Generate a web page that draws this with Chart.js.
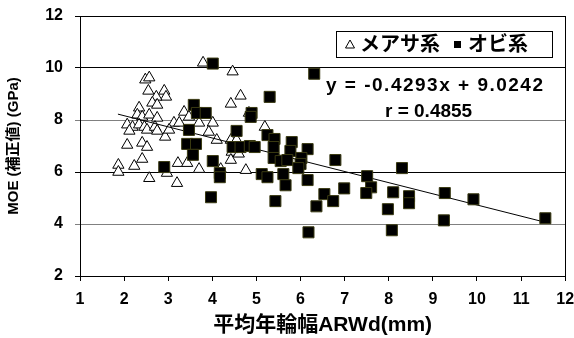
<!DOCTYPE html>
<html>
<head>
<meta charset="utf-8">
<script src="https://cdn.jsdelivr.net/npm/chart.js@4.4.1/dist/chart.umd.min.js"></script>
<style>
  html, body { margin: 0; padding: 0; background: #fff; }
  canvas { display: block; }
</style>
</head>
<body>
<canvas id="moeChart" width="574" height="338"></canvas>
<script>
'use strict';

// メアサ系 (open triangles)
const measaX = [1.87, 1.87, 2.48, 2.57, 2.55, 2.91, 2.95, 2.73, 2.64, 2.75, 2.34, 2.30, 2.41, 2.57, 2.75,
  2.07, 2.19, 2.12, 2.34, 2.46, 2.52, 2.70, 2.75, 2.93, 2.07, 2.41, 2.52, 2.41, 2.23, 2.57,
  3.36, 3.47, 3.13, 3.25, 3.70, 4.01, 3.02, 3.92, 4.10, 4.42, 4.55, 3.79, 4.46, 4.64, 4.42,
  4.83, 5.19, 4.44, 4.60, 4.42, 3.22, 3.43, 3.70, 3.20, 4.19, 4.76, 2.97];
const measaY = [6.27, 6.00, 9.55, 9.63, 9.12, 9.12, 8.89, 8.89, 8.66, 8.58, 8.47, 8.20, 8.12, 8.20, 8.08,
  7.82, 7.73, 7.58, 7.82, 7.73, 7.62, 7.73, 7.58, 7.35, 7.04, 7.12, 6.96, 6.50, 6.23, 5.76,
  8.31, 8.12, 7.89, 7.89, 7.89, 7.89, 7.62, 7.54, 7.23, 7.23, 7.23, 10.20, 9.86, 8.93, 8.62,
  8.27, 7.73, 6.77, 6.70, 6.46, 6.34, 6.34, 6.11, 5.57, 6.11, 6.07, 5.96];

// オビ系 (filled squares)
const obiX = [4.01, 6.31, 5.30, 3.58, 3.65, 3.85, 4.89, 4.87, 3.47, 4.55, 5.25, 5.41, 3.43, 3.63, 3.56,
  4.46, 4.64, 4.85, 4.96, 5.39, 5.80, 5.77, 6.16, 5.39, 5.55, 5.70, 6.02, 6.00, 5.95, 6.79,
  4.01, 2.91, 4.17, 4.17, 5.12, 5.25, 5.61, 5.66, 6.16, 3.97, 5.43, 6.54, 6.74, 6.36, 6.18,
  6.99, 7.51, 7.60, 7.49, 8.30, 8.10, 7.98, 8.46, 8.46, 8.07, 9.27, 9.25, 9.92, 11.55];
const obiY = [10.17, 9.78, 8.89, 8.58, 8.27, 8.27, 8.27, 8.12, 7.62, 7.58, 7.42, 7.27, 7.08, 7.08, 6.66,
  6.96, 6.96, 7.00, 6.96, 6.96, 7.15, 6.81, 6.88, 6.54, 6.42, 6.46, 6.54, 6.31, 6.15, 6.46,
  6.42, 6.19, 5.96, 5.80, 5.92, 5.80, 5.92, 5.49, 5.69, 5.03, 4.88, 5.15, 4.88, 4.68, 3.68,
  5.37, 5.84, 5.41, 5.19, 6.15, 5.22, 4.57, 5.07, 4.80, 3.76, 5.19, 4.14, 4.95, 4.22];

// regression line shown on the chart
const slope = -0.4293;
const intercept = 9.0242;
const rValue = 0.4855;
const trendX = [1.86, 11.55];

const xTicks = [1, 2, 3, 4, 5, 6, 7, 8, 9, 10, 11, 12];
const yTicks = [2, 4, 6, 8, 10, 12];

const FONT = "'Liberation Sans', 'Noto Sans CJK JP', sans-serif";

const toPoints = (xs, ys) => xs.map((x, i) => ({ x: x, y: ys[i] }));

// legend box, equation and right frame line
const extras = {
  id: 'extras',
  afterDraw(chart) {
    const { ctx, chartArea: a } = chart;
    ctx.save();
    ctx.strokeStyle = '#000';
    ctx.lineWidth = 1;
    ctx.beginPath();
    ctx.moveTo(Math.round(a.right) + 0.5, a.top);
    ctx.lineTo(Math.round(a.right) + 0.5, a.bottom);
    ctx.stroke();

    // legend
    ctx.fillStyle = '#fff';
    ctx.fillRect(336, 31, 216, 26);
    ctx.strokeRect(336.5, 31.5, 216, 26);
    ctx.fillStyle = '#000';
    ctx.beginPath();
    ctx.moveTo(350, 40); ctx.lineTo(354.5, 48); ctx.lineTo(345.5, 48); ctx.closePath();
    ctx.stroke();
    ctx.fillRect(454, 41, 7, 7);
    ctx.font = 'bold 20px ' + FONT;
    ctx.textBaseline = 'middle';
    ctx.textAlign = 'left';
    ctx.fillText('メアサ系', 360, 45);
    ctx.fillText('オビ系', 468, 45);

    // equation
    ctx.font = 'bold 19px ' + FONT;
    ctx.letterSpacing = '1.5px';
    ctx.fillText('y = ' + slope + 'x + ' + intercept, 326, 86);
    ctx.letterSpacing = '0px';
    ctx.fillText('r = ' + rValue, 385, 112);
    ctx.restore();
  }
};

const ctx = document.getElementById('moeChart');
new Chart(ctx, {
  type: 'scatter',
  data: {
    datasets: [
      {
        label: 'オビ系',
        data: toPoints(obiX, obiY),
        pointStyle: 'rect',
        pointRadius: 7.8,
        pointHoverRadius: 7.8,
        backgroundColor: '#000',
        borderColor: '#3a3a12',
        borderWidth: 1
      },
      {
        label: 'trend',
        data: trendX.map(x => ({ x: x, y: slope * x + intercept })),
        showLine: true,
        pointRadius: 0,
        borderColor: '#000',
        borderWidth: 1
      },
      {
        label: 'メアサ系',
        data: toPoints(measaX, measaY),
        pointStyle: 'triangle',
        pointRadius: 6.5,
        pointHoverRadius: 6.5,
        backgroundColor: '#fff',
        borderColor: '#000',
        borderWidth: 1
      }
    ]
  },
  options: {
    responsive: false,
    animation: false,
    devicePixelRatio: 1,
    layout: { padding: { top: 16, right: 6, left: 0, bottom: 0 } },
    plugins: {
      legend: { display: false },
      tooltip: { enabled: false }
    },
    scales: {
      x: {
        type: 'linear',
        min: 1,
        max: 12,
        afterBuildTicks: s => { s.ticks = xTicks.map(v => ({ value: v })); },
        afterFit: s => { s.height = 62; s.paddingLeft = 0; s.paddingRight = 0; },
        ticks: { color: '#000', padding: 9, font: { family: FONT, size: 16, weight: 'bold' } },
        grid: { drawOnChartArea: false, tickLength: 5, color: '#000' },
        border: { color: '#000' },
        title: {
          display: true,
          text: '平均年輪幅ARWd(mm)',
          color: '#000',
          padding: { top: 0, bottom: 0 },
          font: { family: FONT, size: 21, weight: 'bold' }
        }
      },
      y: {
        min: 2,
        max: 12,
        afterBuildTicks: s => { s.ticks = yTicks.map(v => ({ value: v })); },
        afterFit: s => { s.width = 80; s.paddingTop = 0; s.paddingBottom = 0; },
        ticks: { color: '#000', padding: 12, font: { family: FONT, size: 16, weight: 'bold' } },
        grid: {
          tickLength: 5,
          color: c => (c.tick && (c.tick.value === 4 || c.tick.value === 8)) ? '#808080' : '#000'
        },
        border: { color: '#000' },
        title: {
          display: true,
          text: 'MOE (補正値) (GPa)',
          color: '#000',
          padding: { top: 5, bottom: 0 },
          font: { family: FONT, size: 15, weight: 'bold' }
        }
      }
    }
  },
  plugins: [extras]
});
</script>
</body>
</html>
